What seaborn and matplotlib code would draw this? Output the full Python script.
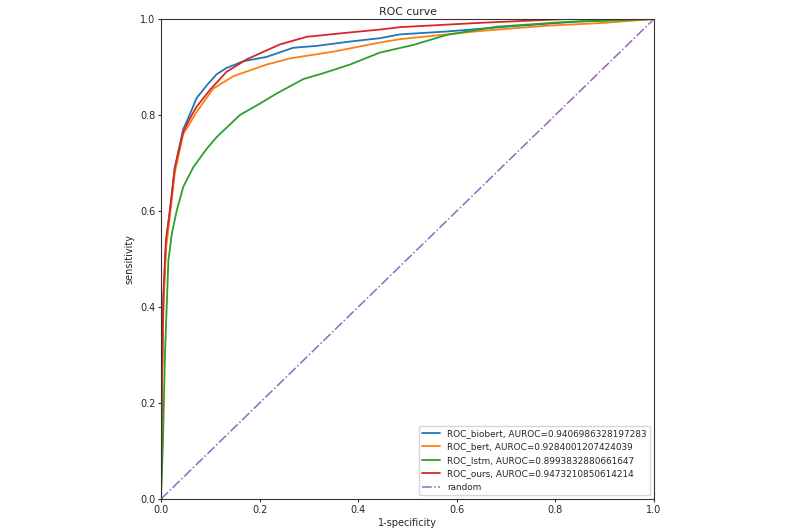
"""ROC curves of the four models, redrawn with seaborn."""
import matplotlib
matplotlib.use("Agg")
import matplotlib.pyplot as plt
import seaborn as sns
import pandas as pd

# values
fpr_biobert = [0, 0.002, 0.005, 0.01, 0.018, 0.028, 0.045, 0.06, 0.072, 0.093, 0.113, 0.133,
               0.167, 0.214, 0.268, 0.316, 0.383, 0.444, 0.485, 0.58, 0.714, 0.85, 1.0]
tpr_biobert = [0, 0.25, 0.42, 0.53, 0.60, 0.69, 0.77, 0.805, 0.835, 0.862, 0.885, 0.898,
               0.912, 0.921, 0.940, 0.944, 0.953, 0.960, 0.968, 0.974, 0.985, 0.995, 1.0]

fpr_bert = [0, 0.002, 0.005, 0.01, 0.018, 0.028, 0.045, 0.06, 0.072, 0.106, 0.147, 0.214,
            0.262, 0.35, 0.444, 0.485, 0.647, 0.782, 0.9, 1.0]
tpr_bert = [0, 0.22, 0.40, 0.52, 0.59, 0.68, 0.76, 0.785, 0.806, 0.855, 0.881, 0.905,
            0.918, 0.932, 0.951, 0.958, 0.975, 0.986, 0.992, 1.0]

fpr_lstm = [0, 0.004, 0.008, 0.012, 0.015, 0.022, 0.032, 0.045, 0.066, 0.093, 0.113, 0.160,
            0.201, 0.235, 0.289, 0.329, 0.383, 0.444, 0.512, 0.58, 0.681, 0.823, 1.0]
tpr_lstm = [0, 0.12, 0.30, 0.413, 0.497, 0.553, 0.601, 0.650, 0.692, 0.730, 0.754, 0.800,
            0.824, 0.845, 0.875, 0.887, 0.905, 0.930, 0.946, 0.967, 0.984, 0.994, 1.0]

fpr_ours = [0, 0.002, 0.005, 0.01, 0.018, 0.028, 0.045, 0.06, 0.072, 0.099, 0.133, 0.174,
            0.241, 0.296, 0.383, 0.444, 0.485, 0.647, 0.823, 1.0]
tpr_ours = [0, 0.27, 0.43, 0.54, 0.60, 0.69, 0.765, 0.795, 0.817, 0.852, 0.890, 0.916,
            0.947, 0.963, 0.972, 0.978, 0.983, 0.992, 1.0, 1.0]

labels = ['ROC_biobert, AUROC=0.9406986328197283',
          'ROC_bert, AUROC=0.9284001207424039',
          'ROC_lstm, AUROC=0.8993832880661647',
          'ROC_ours, AUROC=0.9473210850614214']
colors = ['#1f77b4', '#ff7f0e', '#2ca02c', '#d62728']
random_x = [0, 1]
random_y = [0, 1]

sns.set_style('white')
plt.rcParams['font.size'] = 7

fig = plt.figure(figsize=(8, 5.31), dpi=100)
ax = fig.add_axes([161 / 800, 1 - 499 / 531, 493 / 800, 480 / 531])

curves = [(fpr_biobert, tpr_biobert), (fpr_bert, tpr_bert),
          (fpr_lstm, tpr_lstm), (fpr_ours, tpr_ours)]
for (x, y), lab, c in zip(curves, labels, colors):
    df = pd.DataFrame({'fpr': x, 'tpr': y})
    sns.lineplot(data=df, x='fpr', y='tpr', color=c, label=lab, lw=1.3,
                 sort=False, estimator=None, ax=ax)

sns.lineplot(x=random_x, y=random_y, color='#9467bd', linestyle='-.', lw=1.1,
             label='random', ax=ax)

ax.set_xlim(0, 1)
ax.set_ylim(0, 1)
ax.set_xticks([0, 0.2, 0.4, 0.6, 0.8, 1.0])
ax.set_yticks([0, 0.2, 0.4, 0.6, 0.8, 1.0])
ax.tick_params(axis='both', direction='out', length=2.5, width=0.8, labelsize=7,
               pad=1.5, bottom=True, left=True, color='#333333')
for s in ax.spines.values():
    s.set_color('#333333')
    s.set_linewidth(0.8)
ax.set_xlabel('1-specificity', fontsize=7, labelpad=2.5)
ax.set_ylabel('sensitivity', fontsize=7, labelpad=4)
ax.set_title('ROC curve', fontsize=7.8, pad=3)
ax.legend(loc='lower right', fontsize=6.4, frameon=True, edgecolor='#cccccc',
          fancybox=True, handlelength=2.0, borderaxespad=0.4)

plt.savefig('out.png', dpi=100)
